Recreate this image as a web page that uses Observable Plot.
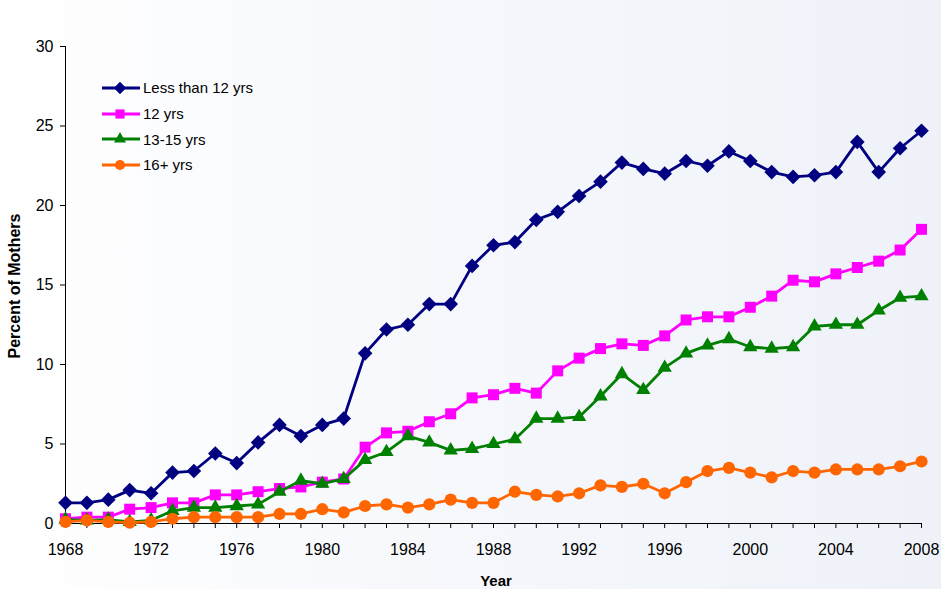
<!DOCTYPE html>
<html>
<head>
<meta charset="utf-8">
<script src="https://cdn.jsdelivr.net/npm/d3@7"></script>
<script src="https://cdn.jsdelivr.net/npm/@observablehq/plot@0.6"></script>
<style>
html, body { margin: 0; padding: 0; }
body {
  width: 941px; height: 589px; overflow: hidden;
  background: linear-gradient(to right, #ffffff 0%, #f6f8fc 45%, #eef2f8 100%);
  font-family: "Liberation Sans", Arial, sans-serif;
}
#wrap { position: relative; width: 941px; height: 589px; }
#wrap svg { display: block; }
#legend { position: absolute; left: 102px; top: 75px; }
.row { display: flex; align-items: center; height: 25.7px; font-size: 15px; color: #000; }
.row svg { margin-right: 3px; }
.ytitle {
  position: absolute; left: 15px; top: 286px;
  transform: translate(-50%, -50%) rotate(-90deg);
  font-weight: bold; font-size: 16px; white-space: nowrap; color: #000;
}
.xtitle {
  position: absolute; left: 496px; top: 572px;
  transform: translateX(-50%);
  font-weight: bold; font-size: 15px; white-space: nowrap; color: #000;
}
</style>
</head>
<body>
<div id="wrap"></div>
<script>
const years = [1968,1969,1970,1971,1972,1973,1974,1975,1976,1977,1978,1979,1980,1981,1982,1983,1984,1985,1986,1987,1988,1989,1990,1991,1992,1993,1994,1995,1996,1997,1998,1999,2000,2001,2002,2003,2004,2005,2006,2007,2008];
const xTickLabels = [1968,1972,1976,1980,1984,1988,1992,1996,2000,2004,2008];
const yTicks = [0,5,10,15,20,25,30];

const seriesNames = ["Less than 12 yrs", "12 yrs", "13-15 yrs", "16+ yrs"];

const lessThan12 = [1.3,1.3,1.5,2.1,1.9,3.2,3.3,4.4,3.8,5.1,6.2,5.5,6.2,6.6,10.7,12.2,12.5,13.8,13.8,16.2,17.5,17.7,19.1,19.6,20.6,21.5,22.7,22.3,22.0,22.8,22.5,23.4,22.8,22.1,21.8,21.9,22.1,24.0,22.1,23.6,24.7];
const yrs12 = [0.3,0.4,0.4,0.9,1.0,1.3,1.3,1.8,1.8,2.0,2.2,2.3,2.6,2.8,4.8,5.7,5.8,6.4,6.9,7.9,8.1,8.5,8.2,9.6,10.4,11.0,11.3,11.2,11.8,12.8,13.0,13.0,13.6,14.3,15.3,15.2,15.7,16.1,16.5,17.2,18.5];
const yrs13to15 = [0.25,0.2,0.25,0.1,0.2,0.8,1.0,1.0,1.1,1.2,2.0,2.7,2.5,2.8,4.0,4.5,5.5,5.1,4.6,4.7,5.0,5.3,6.6,6.6,6.7,8.0,9.4,8.4,9.8,10.7,11.2,11.6,11.1,11.0,11.1,12.4,12.5,12.5,13.4,14.2,14.3];
const yrs16plus = [0.1,0.2,0.1,0.05,0.1,0.3,0.4,0.4,0.4,0.4,0.6,0.6,0.9,0.7,1.1,1.2,1.0,1.2,1.5,1.3,1.3,2.0,1.8,1.7,1.9,2.4,2.3,2.5,1.9,2.6,3.3,3.5,3.2,2.9,3.3,3.2,3.4,3.4,3.4,3.6,3.9];

const seriesValues = [lessThan12, yrs12, yrs13to15, yrs16plus];
const colors = ["#000080", "#FF00FF", "#008000", "#FF6600"];
const symbols = ["diamond2", "square", "triangle", "circle"];
const d3Symbols = [d3.symbolDiamond2, d3.symbolSquare, d3.symbolTriangle, d3.symbolCircle];
const radii = [6.6, 6.2, 5.3, 6.1];

const seriesData = seriesNames.map((name, i) =>
  years.map((year, j) => ({ year, value: seriesValues[i][j], series: name }))
);

const marks = [
  Plot.ruleY([0], { stroke: "#000", strokeWidth: 1 }),
  Plot.ruleX([years[0]], { stroke: "#000", strokeWidth: 1 }),
  Plot.axisY({ ticks: yTicks, tickSize: 5, tickPadding: 7, label: null, tickFormat: d => String(d) }),
  Plot.axisX({ ticks: years, tickSize: 5, tickPadding: 15, label: null,
    tickFormat: d => xTickLabels.includes(d) ? String(d) : "" })
];
seriesData.forEach((rows, i) => {
  marks.push(Plot.line(rows, { x: "year", y: "value", stroke: colors[i], strokeWidth: 2.8 }));
  marks.push(Plot.dot(rows, { x: "year", y: "value", symbol: symbols[i], r: radii[i], fill: colors[i], stroke: "none" }));
});

const chart = Plot.plot({
  width: 941,
  height: 589,
  marginLeft: 65,
  marginRight: 20,
  marginTop: 46,
  marginBottom: 66,
  x: { domain: [years[0], years[years.length - 1]] },
  y: { domain: [0, 30] },
  style: { background: "transparent", color: "#000", fontSize: "16px", fontFamily: "'Liberation Sans', Arial, sans-serif" },
  marks
});

const wrap = document.getElementById("wrap");
wrap.appendChild(chart);

// legend
const legend = document.createElement("div");
legend.id = "legend";
seriesNames.forEach((name, i) => {
  const row = document.createElement("div");
  row.className = "row";
  const s = d3.create("svg").attr("width", 38).attr("height", 20);
  s.append("line").attr("x1", 0).attr("x2", 38).attr("y1", 10).attr("y2", 10)
    .attr("stroke", colors[i]).attr("stroke-width", 2.8);
  s.append("path").attr("transform", "translate(18,10)")
    .attr("d", d3.symbol(d3Symbols[i], Math.PI * radii[i] * radii[i] * 0.7)())
    .attr("fill", colors[i]);
  row.appendChild(s.node());
  const t = document.createElement("span");
  t.textContent = name;
  row.appendChild(t);
  legend.appendChild(row);
});
wrap.appendChild(legend);

const yt = document.createElement("div");
yt.className = "ytitle";
yt.textContent = "Percent of Mothers";
wrap.appendChild(yt);

const xt = document.createElement("div");
xt.className = "xtitle";
xt.textContent = "Year";
wrap.appendChild(xt);
</script>
</body>
</html>
